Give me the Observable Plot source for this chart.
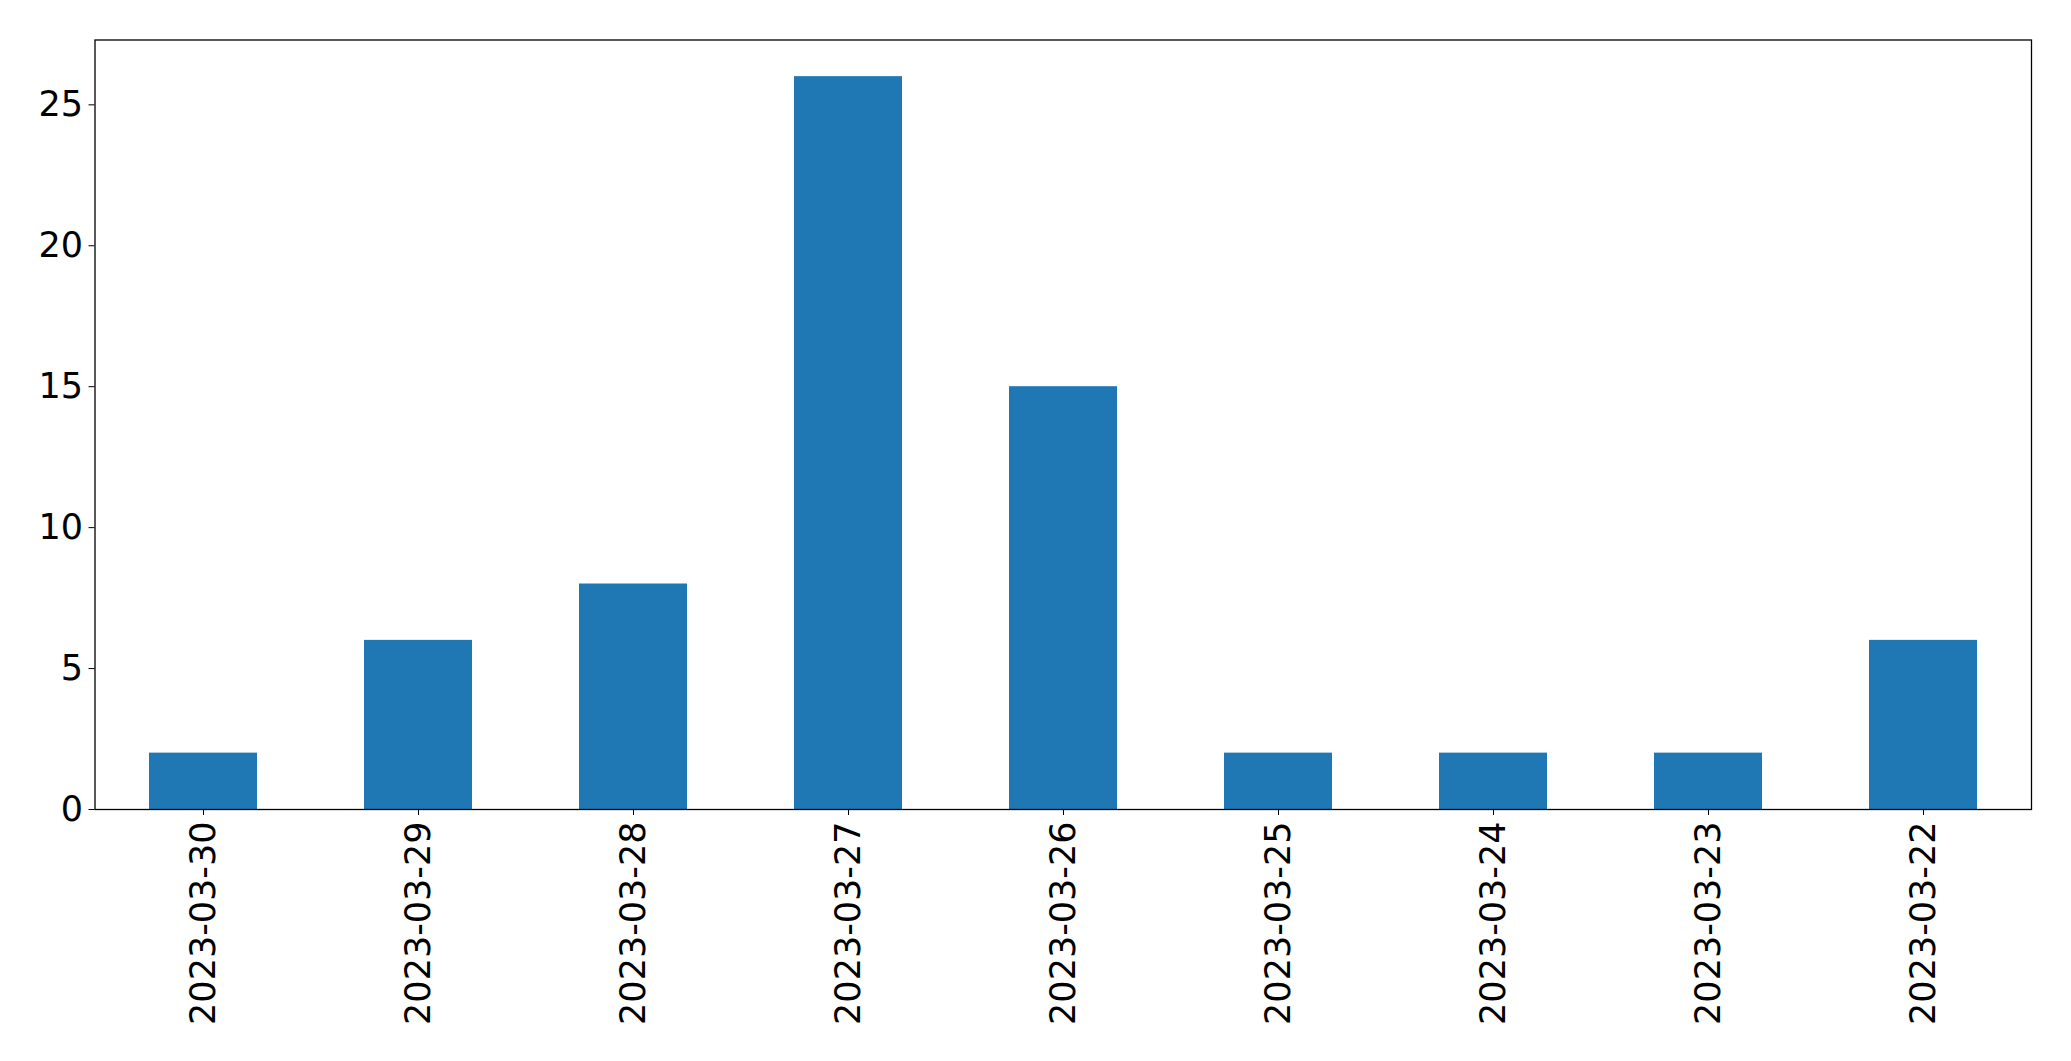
<!DOCTYPE html>
<html>
<head>
<meta charset="utf-8">
<script src="https://cdn.jsdelivr.net/npm/d3@7"></script>
<script src="https://cdn.jsdelivr.net/npm/@observablehq/plot@0.6"></script>
<style>
  html, body { margin: 0; padding: 0; background: #fff; overflow: hidden; }
  svg { display: block; }
</style>
</head>
<body>
<div id="chart"></div>
<script>
const dates = ["2023-03-30", "2023-03-29", "2023-03-28", "2023-03-27", "2023-03-26", "2023-03-25", "2023-03-24", "2023-03-23", "2023-03-22"];
const counts = [2, 6, 8, 26, 15, 2, 2, 2, 6];
const yTicks = [0, 5, 10, 15, 20, 25];

const data = dates.map((d, i) => ({date: d, count: counts[i]}));

const chart = Plot.plot({
  width: 2071,
  height: 1061,
  marginLeft: 94.5,
  marginRight: 40,
  marginTop: 39.5,
  marginBottom: 252,
  style: {fontFamily: "DejaVu Sans", fontSize: "35px", color: "#000", background: "#fff"},
  x: {domain: dates, paddingInner: 0.5, paddingOuter: 0.25, label: null},
  y: {domain: [0, 27.3], label: null},
  marks: [
    Plot.barY(data, {x: "date", y: "count", fill: "#1f77b4"}),
    Plot.axisY({ticks: yTicks, tickSize: 6, tickPadding: 6, fontSize: 35, label: null, stroke: "#000"}),
    Plot.axisX({tickSize: 6, tickPadding: 6, tickRotate: -90, fontSize: 35, label: null, stroke: "#000"}),
    Plot.frame({stroke: "#000", strokeWidth: 1.3})
  ]
});
document.getElementById("chart").appendChild(chart);
</script>
</body>
</html>
